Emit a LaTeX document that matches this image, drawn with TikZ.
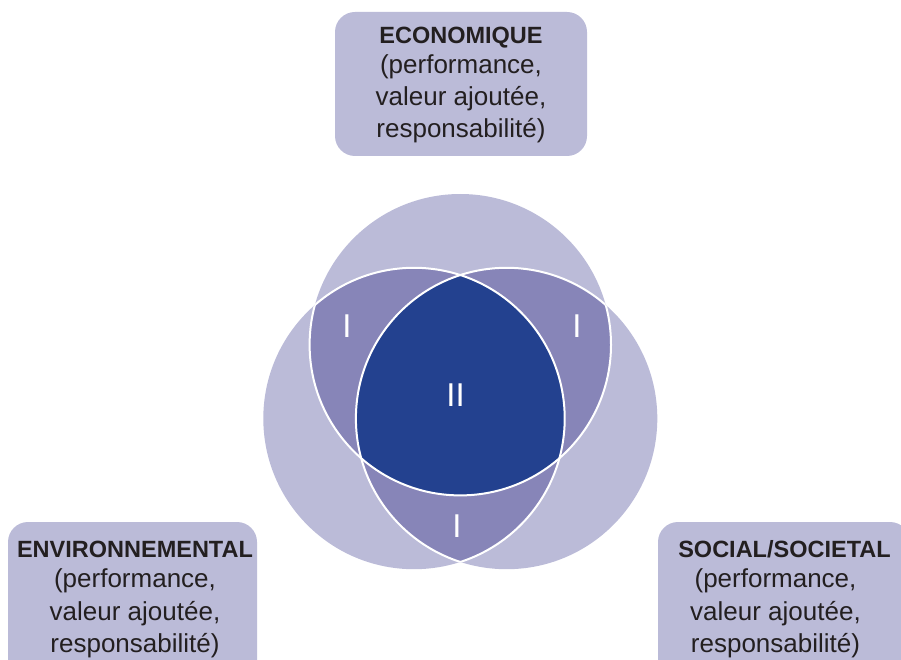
\documentclass[tikz,border=0pt]{standalone}
\usepackage{fontspec}
\setmainfont{Liberation Sans}
\definecolor{lilac}{HTML}{BBBBD8}
\definecolor{midv}{HTML}{8785B8}
\definecolor{deep}{HTML}{23418F}
\definecolor{ink}{HTML}{231F20}
\begin{document}
\begin{tikzpicture}[x=1pt,y=-1pt,
  box/.style={fill=lilac, rounded corners=20pt, inner sep=0, draw=none},
  head/.style={anchor=base, text=ink, font=\fontsize{23.5}{28}\selectfont\bfseries, inner sep=0},
  body/.style={anchor=base, text=ink, font=\fontsize{26}{32}\selectfont, inner sep=0},
  roman/.style={text=white, font=\fontsize{33}{36}\selectfont, inner sep=0},
  rim/.style={draw=white, line width=2pt}]
\useasboundingbox (0,0) rectangle (901,660);
\def\R{150.7pt}
\coordinate (cT) at (460.3,344.7);
\coordinate (cL) at (414,418.5);
\coordinate (cR) at (506.6,418.5);
% base circles
\fill[lilac] (cT) circle[radius=\R] (cL) circle[radius=\R] (cR) circle[radius=\R];
% pairwise overlaps
\begin{scope}
  \clip (cT) circle[radius=\R];
  \fill[midv] (cL) circle[radius=\R] (cR) circle[radius=\R];
\end{scope}
\begin{scope}
  \clip (cL) circle[radius=\R];
  \fill[midv] (cR) circle[radius=\R];
\end{scope}
% triple overlap
\begin{scope}
  \clip (cT) circle[radius=\R];
  \clip (cL) circle[radius=\R];
  \fill[deep] (cR) circle[radius=\R];
\end{scope}
% white rims inside the other circles
\begin{scope}
  \clip (cL) circle[radius=\R] (cR) circle[radius=\R];
  \draw[rim] (cT) circle[radius=\R];
\end{scope}
\begin{scope}
  \clip (cT) circle[radius=\R] (cR) circle[radius=\R];
  \draw[rim] (cL) circle[radius=\R];
\end{scope}
\begin{scope}
  \clip (cT) circle[radius=\R] (cL) circle[radius=\R];
  \draw[rim] (cR) circle[radius=\R];
\end{scope}
% roman numerals
\node[roman] (iL) at (347,326.5) {I};
\node[roman] (iR) at (577,326.5) {I};
\node[roman] (iB) at (457,526) {I};
\node[roman] (ii) at (455.5,395.3) {II};
% boxes
\node[box, minimum width=252pt, minimum height=144pt] (econbox) at (461,84) {};
\node[box, minimum width=249pt, minimum height=178pt] (envbox) at (132.5,611) {};
\node[box, minimum width=252pt, minimum height=178pt] (socbox) at (784,611) {};
% top text
\node[head] (e1) at (461,44) {ECONOMIQUE};
\node[body] (e2) at (461,74) {(performance,};
\node[body] (e3) at (461,106) {valeur ajoutée,};
\node[body] (e4) at (461,138) {responsabilité)};
% left text
\node[head] (v1) at (135,557) {ENVIRONNEMENTAL};
\node[body] (v2) at (135,587) {(performance,};
\node[body] (v3) at (135,620) {valeur ajoutée,};
\node[body] (v4) at (135,652) {responsabilité)};
% right text
\node[head] (s1) at (784.5,557) {SOCIAL/SOCIETAL};
\node[body] (s2) at (775.5,587) {(performance,};
\node[body] (s3) at (775.5,620) {valeur ajoutée,};
\node[body] (s4) at (775.5,652) {responsabilité)};
\end{tikzpicture}
\end{document}
